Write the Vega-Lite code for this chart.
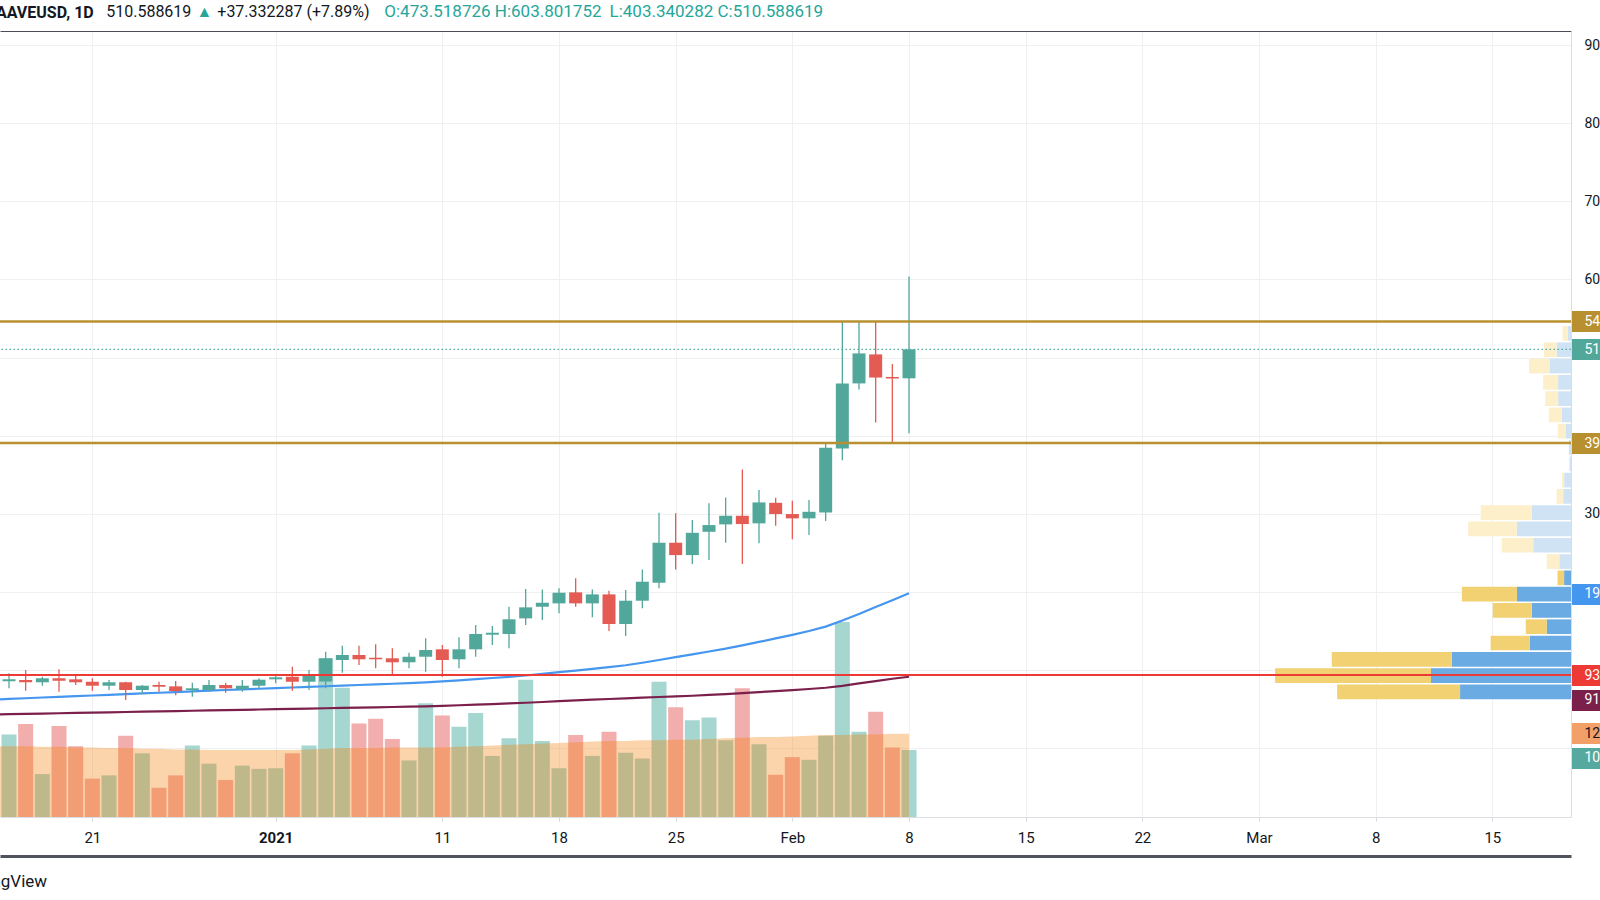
{
  "$schema": "https://vega.github.io/schema/vega-lite/v6.json",
  "autosize": "none",
  "width": 1571,
  "height": 786,
  "padding": {"left": 0, "top": 31, "right": 29, "bottom": 83},
  "background": "#ffffff",
  "title": {"text": "AAVEUSD, 1D", "anchor": "start", "frame": "group", "dx": -4, "offset": -26.5, "baseline": "middle", "font": "Roboto", "fontSize": 16, "fontWeight": "bold", "color": "#131722"},
  "config": {
    "view": {"stroke": null},
    "font": "Roboto",
    "axis": {"labelFont": "Roboto", "titleFont": "Roboto"}
  },
  "datasets": {
    "days": [
      {"d": "2020-12-16", "o": 85.8, "h": 96.0, "l": 76.8, "c": 88.3, "v": 12.7},
      {"d": "2020-12-17", "o": 87.5, "h": 100.2, "l": 73.7, "c": 84.5, "v": 14.3},
      {"d": "2020-12-18", "o": 84.5, "h": 91.6, "l": 80.1, "c": 89.6, "v": 6.6},
      {"d": "2020-12-19", "o": 89.6, "h": 101.1, "l": 72.5, "c": 86.5, "v": 14.0},
      {"d": "2020-12-20", "o": 88.3, "h": 93.8, "l": 81.0, "c": 84.5, "v": 10.9},
      {"d": "2020-12-21", "o": 85.2, "h": 89.6, "l": 73.7, "c": 80.1, "v": 5.9},
      {"d": "2020-12-22", "o": 80.1, "h": 87.4, "l": 74.6, "c": 84.5, "v": 6.4},
      {"d": "2020-12-23", "o": 84.5, "h": 85.2, "l": 61.8, "c": 74.6, "v": 12.5},
      {"d": "2020-12-24", "o": 74.6, "h": 81.0, "l": 69.5, "c": 80.1, "v": 9.8},
      {"d": "2020-12-25", "o": 81.0, "h": 85.2, "l": 72.5, "c": 78.8, "v": 4.5},
      {"d": "2020-12-26", "o": 79.3, "h": 86.1, "l": 67.8, "c": 73.3, "v": 6.4},
      {"d": "2020-12-27", "o": 74.6, "h": 83.9, "l": 66.0, "c": 76.8, "v": 11.0},
      {"d": "2020-12-28", "o": 74.6, "h": 87.4, "l": 72.5, "c": 81.0, "v": 8.2},
      {"d": "2020-12-29", "o": 81.0, "h": 83.9, "l": 71.2, "c": 76.8, "v": 5.7},
      {"d": "2020-12-30", "o": 75.9, "h": 87.4, "l": 72.5, "c": 80.1, "v": 7.9},
      {"d": "2020-12-31", "o": 80.1, "h": 89.6, "l": 76.8, "c": 87.8, "v": 7.4},
      {"d": "2021-01-01", "o": 88.3, "h": 93.8, "l": 83.2, "c": 90.9, "v": 7.5},
      {"d": "2021-01-02", "o": 91.6, "h": 104.4, "l": 73.7, "c": 85.2, "v": 9.8},
      {"d": "2021-01-03", "o": 85.2, "h": 100.2, "l": 74.6, "c": 93.8, "v": 11.0},
      {"d": "2021-01-04", "o": 85.5, "h": 123.6, "l": 76.8, "c": 115.2, "v": 24.4},
      {"d": "2021-01-05", "o": 113.0, "h": 131.3, "l": 96.7, "c": 119.4, "v": 19.9},
      {"d": "2021-01-06", "o": 119.4, "h": 131.3, "l": 106.6, "c": 113.9, "v": 14.4},
      {"d": "2021-01-07", "o": 115.9, "h": 133.1, "l": 102.4, "c": 113.9, "v": 15.1},
      {"d": "2021-01-08", "o": 115.2, "h": 128.0, "l": 95.1, "c": 110.1, "v": 12.0},
      {"d": "2021-01-09", "o": 110.1, "h": 122.3, "l": 102.4, "c": 117.2, "v": 8.7},
      {"d": "2021-01-10", "o": 117.2, "h": 140.8, "l": 98.0, "c": 125.8, "v": 17.5},
      {"d": "2021-01-11", "o": 126.7, "h": 132.2, "l": 91.6, "c": 113.0, "v": 15.6},
      {"d": "2021-01-12", "o": 113.9, "h": 142.0, "l": 102.4, "c": 126.7, "v": 13.9},
      {"d": "2021-01-13", "o": 126.7, "h": 157.8, "l": 117.2, "c": 146.3, "v": 16.0},
      {"d": "2021-01-14", "o": 145.4, "h": 156.5, "l": 132.2, "c": 147.9, "v": 9.4},
      {"d": "2021-01-15", "o": 146.3, "h": 181.2, "l": 128.0, "c": 165.1, "v": 12.1},
      {"d": "2021-01-16", "o": 166.3, "h": 203.8, "l": 157.8, "c": 180.4, "v": 21.1},
      {"d": "2021-01-17", "o": 181.2, "h": 203.4, "l": 164.2, "c": 186.3, "v": 11.7},
      {"d": "2021-01-18", "o": 185.5, "h": 204.7, "l": 172.7, "c": 199.1, "v": 7.5},
      {"d": "2021-01-19", "o": 199.6, "h": 217.5, "l": 181.2, "c": 185.5, "v": 12.6},
      {"d": "2021-01-20", "o": 185.5, "h": 203.4, "l": 167.6, "c": 197.0, "v": 9.4},
      {"d": "2021-01-21", "o": 197.0, "h": 201.6, "l": 150.1, "c": 159.1, "v": 13.1},
      {"d": "2021-01-22", "o": 159.1, "h": 202.5, "l": 143.7, "c": 188.9, "v": 9.9},
      {"d": "2021-01-23", "o": 188.9, "h": 229.0, "l": 179.1, "c": 213.2, "v": 9.0},
      {"d": "2021-01-24", "o": 211.9, "h": 301.5, "l": 204.7, "c": 263.1, "v": 20.8},
      {"d": "2021-01-25", "o": 263.1, "h": 300.7, "l": 229.0, "c": 247.3, "v": 16.9},
      {"d": "2021-01-26", "o": 247.3, "h": 292.1, "l": 235.8, "c": 275.8, "v": 14.9},
      {"d": "2021-01-27", "o": 277.1, "h": 313.5, "l": 240.9, "c": 285.7, "v": 15.3},
      {"d": "2021-01-28", "o": 286.6, "h": 321.1, "l": 263.1, "c": 297.6, "v": 11.8},
      {"d": "2021-01-29", "o": 297.6, "h": 356.9, "l": 235.8, "c": 287.0, "v": 19.8},
      {"d": "2021-01-30", "o": 287.9, "h": 330.5, "l": 262.3, "c": 314.7, "v": 11.2},
      {"d": "2021-01-31", "o": 314.2, "h": 320.6, "l": 284.8, "c": 299.8, "v": 6.5},
      {"d": "2021-02-01", "o": 299.8, "h": 316.8, "l": 267.4, "c": 294.3, "v": 9.2},
      {"d": "2021-02-02", "o": 294.3, "h": 317.7, "l": 272.9, "c": 302.7, "v": 8.8},
      {"d": "2021-02-03", "o": 301.9, "h": 391.0, "l": 290.8, "c": 384.6, "v": 12.5},
      {"d": "2021-02-04", "o": 383.8, "h": 545.8, "l": 368.8, "c": 467.0, "v": 30.0},
      {"d": "2021-02-05", "o": 467.0, "h": 545.8, "l": 459.3, "c": 505.4, "v": 13.1},
      {"d": "2021-02-06", "o": 504.1, "h": 545.8, "l": 417.1, "c": 474.5, "v": 16.2},
      {"d": "2021-02-07", "o": 475.2, "h": 491.7, "l": 391.0, "c": 473.26, "v": 10.7},
      {"d": "2021-02-08", "o": 473.52, "h": 603.80, "l": 403.34, "c": 510.59, "v": 10.3}
    ],
    "ma": [
      {"d": "2020-12-15", "ma50": 62.3, "ma200": 43.3, "vma": 10.9},
      {"d": "2020-12-16", "ma50": 63.2, "ma200": 43.7, "vma": 10.9},
      {"d": "2020-12-17", "ma50": 64.1, "ma200": 44.1, "vma": 10.9},
      {"d": "2020-12-18", "ma50": 65.0, "ma200": 44.5, "vma": 10.8},
      {"d": "2020-12-19", "ma50": 65.8, "ma200": 44.9, "vma": 10.8},
      {"d": "2020-12-20", "ma50": 66.7, "ma200": 45.3, "vma": 10.7},
      {"d": "2020-12-21", "ma50": 67.6, "ma200": 45.7, "vma": 10.7},
      {"d": "2020-12-22", "ma50": 68.5, "ma200": 46.1, "vma": 10.6},
      {"d": "2020-12-23", "ma50": 69.4, "ma200": 46.5, "vma": 10.6},
      {"d": "2020-12-24", "ma50": 70.2, "ma200": 46.9, "vma": 10.5},
      {"d": "2020-12-25", "ma50": 71.1, "ma200": 47.3, "vma": 10.5},
      {"d": "2020-12-26", "ma50": 72.0, "ma200": 47.7, "vma": 10.4},
      {"d": "2020-12-27", "ma50": 72.9, "ma200": 48.1, "vma": 10.4},
      {"d": "2020-12-28", "ma50": 73.8, "ma200": 48.5, "vma": 10.3},
      {"d": "2020-12-29", "ma50": 74.6, "ma200": 48.9, "vma": 10.3},
      {"d": "2020-12-30", "ma50": 75.4, "ma200": 49.3, "vma": 10.3},
      {"d": "2020-12-31", "ma50": 76.2, "ma200": 49.7, "vma": 10.3},
      {"d": "2021-01-01", "ma50": 77.0, "ma200": 50.1, "vma": 10.3},
      {"d": "2021-01-02", "ma50": 77.8, "ma200": 50.5, "vma": 10.3},
      {"d": "2021-01-03", "ma50": 78.6, "ma200": 50.9, "vma": 10.4},
      {"d": "2021-01-04", "ma50": 79.4, "ma200": 51.3, "vma": 10.5},
      {"d": "2021-01-05", "ma50": 80.2, "ma200": 51.7, "vma": 10.6},
      {"d": "2021-01-06", "ma50": 81.0, "ma200": 52.1, "vma": 10.6},
      {"d": "2021-01-07", "ma50": 81.8, "ma200": 52.5, "vma": 10.6},
      {"d": "2021-01-08", "ma50": 82.6, "ma200": 52.9, "vma": 10.7},
      {"d": "2021-01-09", "ma50": 83.4, "ma200": 53.3, "vma": 10.7},
      {"d": "2021-01-10", "ma50": 84.3, "ma200": 53.8, "vma": 10.7},
      {"d": "2021-01-11", "ma50": 85.6, "ma200": 54.4, "vma": 10.7},
      {"d": "2021-01-12", "ma50": 87.0, "ma200": 55.1, "vma": 10.8},
      {"d": "2021-01-13", "ma50": 88.5, "ma200": 55.8, "vma": 10.9},
      {"d": "2021-01-14", "ma50": 90.0, "ma200": 56.6, "vma": 11.0},
      {"d": "2021-01-15", "ma50": 91.5, "ma200": 57.4, "vma": 11.1},
      {"d": "2021-01-16", "ma50": 93.2, "ma200": 58.3, "vma": 11.2},
      {"d": "2021-01-17", "ma50": 95.3, "ma200": 59.3, "vma": 11.3},
      {"d": "2021-01-18", "ma50": 97.4, "ma200": 60.3, "vma": 11.4},
      {"d": "2021-01-19", "ma50": 99.5, "ma200": 61.3, "vma": 11.5},
      {"d": "2021-01-20", "ma50": 101.6, "ma200": 62.2, "vma": 11.6},
      {"d": "2021-01-21", "ma50": 103.8, "ma200": 63.1, "vma": 11.7},
      {"d": "2021-01-22", "ma50": 106.3, "ma200": 64.0, "vma": 11.7},
      {"d": "2021-01-23", "ma50": 109.5, "ma200": 64.9, "vma": 11.8},
      {"d": "2021-01-24", "ma50": 113.0, "ma200": 65.7, "vma": 11.8},
      {"d": "2021-01-25", "ma50": 116.6, "ma200": 66.5, "vma": 11.9},
      {"d": "2021-01-26", "ma50": 120.2, "ma200": 67.3, "vma": 11.9},
      {"d": "2021-01-27", "ma50": 123.9, "ma200": 68.3, "vma": 12.0},
      {"d": "2021-01-28", "ma50": 127.6, "ma200": 69.4, "vma": 12.1},
      {"d": "2021-01-29", "ma50": 131.8, "ma200": 70.6, "vma": 12.2},
      {"d": "2021-01-30", "ma50": 136.2, "ma200": 71.9, "vma": 12.3},
      {"d": "2021-01-31", "ma50": 140.6, "ma200": 73.2, "vma": 12.3},
      {"d": "2021-02-01", "ma50": 145.2, "ma200": 74.5, "vma": 12.4},
      {"d": "2021-02-02", "ma50": 150.2, "ma200": 75.9, "vma": 12.5},
      {"d": "2021-02-03", "ma50": 155.8, "ma200": 77.5, "vma": 12.6},
      {"d": "2021-02-04", "ma50": 163.5, "ma200": 80.0, "vma": 12.6},
      {"d": "2021-02-05", "ma50": 172.0, "ma200": 83.0, "vma": 12.7},
      {"d": "2021-02-06", "ma50": 180.8, "ma200": 86.0, "vma": 12.7},
      {"d": "2021-02-07", "ma50": 189.6, "ma200": 89.0, "vma": 12.8},
      {"d": "2021-02-08", "ma50": 198.5, "ma200": 91.6, "vma": 12.8}
    ],
    "prof": [
      {"lo": 61.8, "hi": 82.65, "side": "up", "seg": "upVA", "v": 37.0},
      {"lo": 61.8, "hi": 82.65, "side": "down", "seg": "downVA", "v": 41.0},
      {"lo": 82.65, "hi": 103.5, "side": "up", "seg": "upVA", "v": 46.7},
      {"lo": 82.65, "hi": 103.5, "side": "down", "seg": "downVA", "v": 52.0},
      {"lo": 103.5, "hi": 124.35, "side": "up", "seg": "upVA", "v": 39.8},
      {"lo": 103.5, "hi": 124.35, "side": "down", "seg": "downVA", "v": 40.0},
      {"lo": 124.35, "hi": 145.2, "side": "up", "seg": "upVA", "v": 13.7},
      {"lo": 124.35, "hi": 145.2, "side": "down", "seg": "downVA", "v": 13.1},
      {"lo": 145.2, "hi": 166.05, "side": "up", "seg": "upVA", "v": 8.1},
      {"lo": 145.2, "hi": 166.05, "side": "down", "seg": "downVA", "v": 7.0},
      {"lo": 166.05, "hi": 186.9, "side": "up", "seg": "upVA", "v": 13.1},
      {"lo": 166.05, "hi": 186.9, "side": "down", "seg": "downVA", "v": 13.0},
      {"lo": 186.9, "hi": 207.75, "side": "up", "seg": "upVA", "v": 18.0},
      {"lo": 186.9, "hi": 207.75, "side": "down", "seg": "downVA", "v": 18.4},
      {"lo": 207.75, "hi": 228.6, "side": "up", "seg": "upVA", "v": 2.3},
      {"lo": 207.75, "hi": 228.6, "side": "down", "seg": "downVA", "v": 2.2},
      {"lo": 228.6, "hi": 249.45, "side": "up", "seg": "upOut", "v": 3.9},
      {"lo": 228.6, "hi": 249.45, "side": "down", "seg": "downOut", "v": 4.2},
      {"lo": 249.45, "hi": 270.3, "side": "up", "seg": "upOut", "v": 12.6},
      {"lo": 249.45, "hi": 270.3, "side": "down", "seg": "downOut", "v": 10.5},
      {"lo": 270.3, "hi": 291.15, "side": "up", "seg": "upOut", "v": 18.1},
      {"lo": 270.3, "hi": 291.15, "side": "down", "seg": "downOut", "v": 16.2},
      {"lo": 291.15, "hi": 312.0, "side": "up", "seg": "upOut", "v": 13.1},
      {"lo": 291.15, "hi": 312.0, "side": "down", "seg": "downOut", "v": 17.0},
      {"lo": 312.0, "hi": 332.85, "side": "up", "seg": "upOut", "v": 2.6},
      {"lo": 312.0, "hi": 332.85, "side": "down", "seg": "downOut", "v": 2.2},
      {"lo": 332.85, "hi": 353.7, "side": "up", "seg": "upOut", "v": 2.3},
      {"lo": 332.85, "hi": 353.7, "side": "down", "seg": "downOut", "v": 0.7},
      {"lo": 353.7, "hi": 374.55, "side": "up", "seg": "upOut", "v": 0.5},
      {"lo": 374.55, "hi": 395.4, "side": "up", "seg": "upOut", "v": 0.7},
      {"lo": 395.4, "hi": 416.25, "side": "up", "seg": "upOut", "v": 1.7},
      {"lo": 395.4, "hi": 416.25, "side": "down", "seg": "downOut", "v": 2.7},
      {"lo": 416.25, "hi": 437.1, "side": "up", "seg": "upOut", "v": 3.1},
      {"lo": 416.25, "hi": 437.1, "side": "down", "seg": "downOut", "v": 4.3},
      {"lo": 437.1, "hi": 457.95, "side": "up", "seg": "upOut", "v": 4.3},
      {"lo": 437.1, "hi": 457.95, "side": "down", "seg": "downOut", "v": 4.3},
      {"lo": 457.95, "hi": 478.8, "side": "up", "seg": "upOut", "v": 4.3},
      {"lo": 457.95, "hi": 478.8, "side": "down", "seg": "downOut", "v": 5.0},
      {"lo": 478.8, "hi": 499.65, "side": "up", "seg": "upOut", "v": 7.0},
      {"lo": 478.8, "hi": 499.65, "side": "down", "seg": "downOut", "v": 7.0},
      {"lo": 499.65, "hi": 520.5, "side": "up", "seg": "upOut", "v": 4.8},
      {"lo": 499.65, "hi": 520.5, "side": "down", "seg": "downOut", "v": 4.2},
      {"lo": 520.5, "hi": 541.35, "side": "up", "seg": "upOut", "v": 1.1},
      {"lo": 520.5, "hi": 541.35, "side": "down", "seg": "downOut", "v": 1.7}
    ],
    "hl": [
      {"p": 546.3, "k": "gold"},
      {"p": 390.7, "k": "gold"},
      {"p": 93.8, "k": "red"},
      {"p": 510.59, "k": "last"}
    ]
  },
  "layer": [
    {
      "layer": [
        {
          "data": {"name": "days"},
          "mark": {"type": "bar", "width": 15, "clip": true},
          "encoding": {
            "x": {"field": "d", "type": "temporal",
              "scale": {"type": "utc", "nice": false, "padding": 0, "domain": [{"year": 2020, "month": 12, "date": 15, "hours": 11, "minutes": 2, "utc": true}, {"year": 2021, "month": 3, "date": 19, "hours": 17, "minutes": 17, "utc": true}]},
              "axis": {"orient": "top", "domain": true, "domainColor": "#4a4d55", "domainWidth": 1, "ticks": false, "labels": false, "grid": false,
                "title": "O:473.518726 H:603.801752", "titleX": 383.8, "titleY": -20, "titleAlign": "left", "titleBaseline": "middle", "titleAngle": 0,
                "titleFontSize": 17, "titleFontWeight": "normal", "titleColor": "#26a69a"}},
            "y": {"field": "v", "type": "quantitative", "scale": {"domain": [0, 120.9], "nice": false, "padding": 0},
              "axis": {"orient": "right", "values": [12.9, 9.1], "domain": false, "grid": false,
                "labelExpr": "datum.value > 11 ? '12.774M' : '10.318M'",
                "tickSize": 29, "tickWidth": 21,
                "tickColor": {"condition": {"test": "datum.value > 11", "value": "#f3a068"}, "value": "#55a99e"},
                "labelColor": {"condition": {"test": "datum.value > 11", "value": "#131722"}, "value": "#ffffff"},
                "labelPadding": -16, "labelFontSize": 14, "labelAlign": "left", "labelBaseline": "middle", "labelOverlap": false, "labelFlush": false,
                "title": "▲", "titleX": -1375, "titleY": -20, "titleAngle": 0, "titleAlign": "left", "titleBaseline": "middle",
                "titleFontSize": 16, "titleFontWeight": "normal", "titleColor": "#26a69a"}},
            "color": {"condition": {"test": "datum.c >= datum.o", "value": "#a5d6d0"}, "value": "#f1aeac"}
          }
        },
        {
          "data": {"name": "ma"},
          "mark": {"type": "area", "color": "#f57c00", "fillOpacity": 0.33, "clip": true},
          "encoding": {
            "x": {"field": "d", "type": "temporal"},
            "y": {"field": "vma", "type": "quantitative"}
          }
        }
      ]
    },
    {
      "data": {"name": "prof"},
      "transform": [{"stack": "v", "groupby": ["lo"], "sort": [{"field": "side", "order": "descending"}], "as": ["v0", "v1"]}],
      "mark": {"type": "rect", "clip": true, "yOffset": -0.8, "y2Offset": 0.8},
      "encoding": {
        "x": {"field": "v0", "type": "quantitative", "scale": {"domain": [0, 524], "reverse": true, "nice": false, "padding": 0, "zero": false},
          "axis": {"orient": "bottom", "offset": 39, "domainColor": "#50535b", "domainWidth": 3, "ticks": false, "labels": false, "grid": false,
            "title": "L:403.340282 C:510.588619", "titleX": 609, "titleY": -845, "titleAlign": "left", "titleBaseline": "middle", "titleAngle": 0,
            "titleFontSize": 17, "titleFontWeight": "normal", "titleColor": "#26a69a"}},
        "x2": {"field": "v1"},
        "y": {"field": "lo", "type": "quantitative", "scale": {"domain": [-87.9, 918], "nice": false, "padding": 0, "zero": false},
          "axis": {"orient": "right", "domain": false, "ticks": false, "labels": false, "grid": false,
            "title": "+37.332287 (+7.89%)", "titleX": -1354.2, "titleY": -20, "titleAngle": 0, "titleAlign": "left", "titleBaseline": "middle",
            "titleFontSize": 16, "titleFontWeight": "normal", "titleColor": "#131722"}},
        "y2": {"field": "hi"},
        "color": {"field": "seg", "type": "nominal", "legend": null,
          "scale": {"domain": ["upVA", "downVA", "upOut", "downOut"], "range": ["#6aabe3", "#f2d173", "#cfe3f4", "#fcefca"]}}
      }
    },
    {
      "layer": [
        {
          "data": {"name": "ma"},
          "mark": {"type": "line", "color": "#7b1f4b", "strokeWidth": 2.2, "clip": true},
          "encoding": {
            "x": {"field": "d", "type": "temporal",
              "scale": {"type": "utc", "nice": false, "padding": 0, "domain": [{"year": 2020, "month": 12, "date": 15, "hours": 11, "minutes": 2, "utc": true}, {"year": 2021, "month": 3, "date": 19, "hours": 17, "minutes": 17, "utc": true}]},
              "axis": {"orient": "bottom",
                "values": [
                  {"year": 2020, "month": 12, "date": 21, "utc": true},
                  {"year": 2021, "month": 1, "date": 1, "utc": true},
                  {"year": 2021, "month": 1, "date": 11, "utc": true},
                  {"year": 2021, "month": 1, "date": 18, "utc": true},
                  {"year": 2021, "month": 1, "date": 25, "utc": true},
                  {"year": 2021, "month": 2, "date": 1, "utc": true},
                  {"year": 2021, "month": 2, "date": 8, "utc": true},
                  {"year": 2021, "month": 2, "date": 15, "utc": true},
                  {"year": 2021, "month": 2, "date": 22, "utc": true},
                  {"year": 2021, "month": 3, "date": 1, "utc": true},
                  {"year": 2021, "month": 3, "date": 8, "utc": true},
                  {"year": 2021, "month": 3, "date": 15, "utc": true}
                ],
                "labelExpr": "utcdate(datum.value) == 1 ? (utcmonth(datum.value) == 0 ? '2021' : utcFormat(datum.value, '%b')) : '' + utcdate(datum.value)",
                "labelFontWeight": {"condition": {"test": "utcmonth(datum.value) == 0 && utcdate(datum.value) == 1", "value": "bold"}, "value": "normal"},
                "labelFontSize": 15, "labelColor": "#131722", "labelPadding": 9, "labelFlush": false, "labelOverlap": false,
                "tickSize": 4, "tickColor": "#d6d8dc", "domainColor": "#dadde2",
                "grid": true, "gridColor": "#eef0f2",
                "title": "TradingView", "titleX": -47, "titleY": 64, "titleAlign": "left", "titleBaseline": "middle", "titleAngle": 0,
                "titleFontSize": 17, "titleFontWeight": "normal", "titleColor": "#131722"}},
            "y": {"field": "ma200", "type": "quantitative", "scale": {"domain": [-87.9, 918], "nice": false, "padding": 0, "zero": false},
              "axis": {"orient": "right",
                "values": [0, 100, 200, 300, 400, 500, 600, 700, 800, 900, 546.3, 510.59, 390.7, 197.5, 93.8, 62.3],
                "labelExpr": "datum.value == 546.3 ? '546.381247' : datum.value == 510.59 ? '510.588619' : datum.value == 390.7 ? '390.732419' : datum.value == 197.5 ? '199.412360' : datum.value == 93.8 ? '93.805211' : datum.value == 62.3 ? '91.604815' : format(datum.value, '.6f')",
                "grid": true,
                "gridColor": {"condition": {"test": "datum.value % 100 == 0", "value": "#eef0f2"}, "value": "rgba(0,0,0,0)"},
                "tickSize": 29, "tickWidth": 21,
                "tickColor": {"condition": [
                  {"test": "datum.value == 546.3 || datum.value == 390.7", "value": "#b8902f"},
                  {"test": "datum.value == 510.59", "value": "#52a79b"},
                  {"test": "datum.value == 197.5", "value": "#4596ee"},
                  {"test": "datum.value == 93.8", "value": "#ee3a34"},
                  {"test": "datum.value == 62.3", "value": "#7b1f4b"}
                ], "value": "rgba(0,0,0,0)"},
                "labelColor": {"condition": {"test": "datum.value % 100 != 0", "value": "#ffffff"}, "value": "#131722"},
                "labelOpacity": {"condition": {"test": "datum.value == 0 || datum.value == 100 || datum.value == 200 || datum.value == 400 || datum.value == 500", "value": 0}, "value": 1},
                "labelPadding": -16, "labelFontSize": 14, "labelAlign": "left", "labelBaseline": "middle", "labelOverlap": false, "labelFlush": false,
                "domainColor": "#dadde2",
                "title": "510.588619", "titleX": -1465.3, "titleY": -20, "titleAngle": 0, "titleAlign": "left", "titleBaseline": "middle",
                "titleFontSize": 16, "titleFontWeight": "normal", "titleColor": "#131722"}}
          }
        },
        {
          "data": {"name": "ma"},
          "mark": {"type": "line", "color": "#4596ee", "strokeWidth": 2.2, "clip": true},
          "encoding": {
            "x": {"field": "d", "type": "temporal"},
            "y": {"field": "ma50", "type": "quantitative"}
          }
        },
        {
          "data": {"name": "days"},
          "mark": {"type": "rule", "strokeWidth": 1.3, "clip": true},
          "encoding": {
            "x": {"field": "d", "type": "temporal"},
            "y": {"field": "l", "type": "quantitative"},
            "y2": {"field": "h"},
            "color": {"condition": {"test": "datum.c >= datum.o", "value": "#52a79b"}, "value": "#e35b52"}
          }
        },
        {
          "data": {"name": "days"},
          "mark": {"type": "bar", "width": 13, "clip": true},
          "encoding": {
            "x": {"field": "d", "type": "temporal"},
            "y": {"field": "o", "type": "quantitative"},
            "y2": {"field": "c"},
            "color": {"condition": {"test": "datum.c >= datum.o", "value": "#52a79b"}, "value": "#e35b52"}
          }
        },
        {
          "data": {"name": "hl"},
          "transform": [{"filter": "datum.k == 'gold'"}],
          "mark": {"type": "rule", "color": "#b8902f", "strokeWidth": 2.6},
          "encoding": {"y": {"field": "p", "type": "quantitative"}}
        },
        {
          "data": {"name": "hl"},
          "transform": [{"filter": "datum.k == 'red'"}],
          "mark": {"type": "rule", "color": "#ee3a34", "strokeWidth": 2.2},
          "encoding": {"y": {"field": "p", "type": "quantitative"}}
        },
        {
          "data": {"name": "hl"},
          "transform": [{"filter": "datum.k == 'last'"}],
          "mark": {"type": "rule", "color": "#52a79b", "strokeWidth": 1.2, "strokeDash": [1.5, 2.5]},
          "encoding": {"y": {"field": "p", "type": "quantitative"}}
        }
      ]
    }
  ],
  "resolve": {"scale": {"x": "independent", "y": "independent"}}
}
